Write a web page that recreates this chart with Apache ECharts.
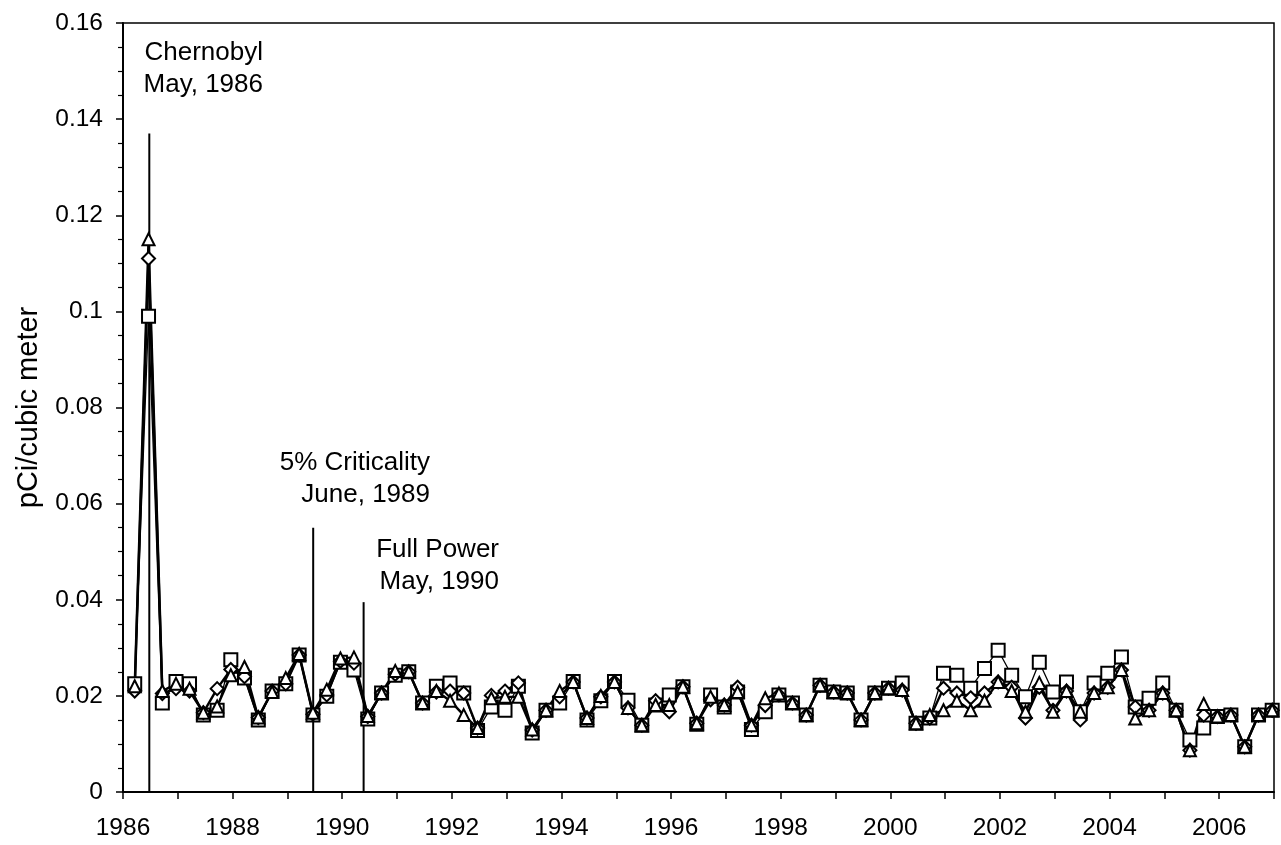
<!DOCTYPE html>
<html>
<head>
<meta charset="utf-8">
<script src="https://cdn.jsdelivr.net/npm/echarts@6/dist/echarts.min.js"></script>
<style>
  html, body { margin: 0; padding: 0; background: #fff; }
  #chart { width: 1281px; height: 845px; }
</style>
</head>
<body>
<div id="chart"></div>
<script>
// Quarterly air samples, first sample in March 1986
const firstYear = 1986;
const sampleMonthDay = [[3, 20], [6, 20], [9, 20], [12, 20]];

// Station readings, pCi per cubic meter, one value per quarter
const stationSquare = [
  0.0225, 0.099, 0.0185, 0.023, 0.0225, 0.016, 0.017, 0.0275, 0.0237, 0.015,
  0.021, 0.0225, 0.0285, 0.016, 0.0199, 0.027, 0.0254, 0.0152, 0.0206, 0.0243,
  0.025, 0.0185, 0.022, 0.0227, 0.0206, 0.0128, 0.0177, 0.017, 0.022, 0.0123,
  0.017, 0.0185, 0.023, 0.015, 0.019, 0.023, 0.0191, 0.0139, 0.0181, 0.0202,
  0.0219, 0.0141, 0.0202, 0.0177, 0.0208, 0.013, 0.0167, 0.0202, 0.0185, 0.016,
  0.0222, 0.0208, 0.0206, 0.015, 0.0206, 0.0216, 0.0227, 0.0143, 0.0154, 0.0247,
  0.0243, 0.0216, 0.0257, 0.0295, 0.0243, 0.0198, 0.027, 0.0208, 0.0229, 0.0167,
  0.0227, 0.0247, 0.0281, 0.0177, 0.0195, 0.0227, 0.017, 0.0108, 0.0133, 0.0157,
  0.016, 0.0094, 0.016, 0.017
];
const stationDiamond = [
  0.021, 0.111, 0.0205, 0.0215, 0.021, 0.0165, 0.0215, 0.0255, 0.024, 0.0155,
  0.021, 0.0225, 0.0285, 0.0162, 0.0202, 0.0272, 0.0268, 0.0157, 0.0206, 0.0245,
  0.025, 0.0185, 0.0208, 0.021, 0.0206, 0.0133, 0.0201, 0.021, 0.0227, 0.0129,
  0.017, 0.0198, 0.0229, 0.0154, 0.0198, 0.0229, 0.0175, 0.0139, 0.019, 0.0167,
  0.0219, 0.0143, 0.0192, 0.0181, 0.0218, 0.0139, 0.018, 0.0202, 0.0185, 0.016,
  0.0222, 0.0208, 0.0206, 0.015, 0.0206, 0.0216, 0.0212, 0.0143, 0.0154, 0.0216,
  0.0206, 0.0196, 0.0206, 0.0229, 0.0218, 0.0154, 0.0218, 0.017, 0.021, 0.015,
  0.0206, 0.0218, 0.0254, 0.0177, 0.017, 0.0206, 0.017, 0.0087, 0.016, 0.0157,
  0.016, 0.0094, 0.016, 0.017
];
const stationTriangle = [
  0.022, 0.115, 0.021, 0.0225, 0.0215, 0.0165, 0.0178, 0.0243, 0.026, 0.0155,
  0.0208, 0.0237, 0.0287, 0.0165, 0.0213, 0.0278, 0.028, 0.0158, 0.0206, 0.0252,
  0.025, 0.0185, 0.021, 0.019, 0.016, 0.0133, 0.0195, 0.0198, 0.0198, 0.013,
  0.017, 0.021, 0.0229, 0.0154, 0.02, 0.0229, 0.0175, 0.0139, 0.0181, 0.0181,
  0.0219, 0.0143, 0.0198, 0.0181, 0.0208, 0.0139, 0.0195, 0.0205, 0.0185, 0.016,
  0.0222, 0.0208, 0.0206, 0.015, 0.0206, 0.0216, 0.0212, 0.0143, 0.016, 0.017,
  0.019, 0.017, 0.019, 0.0229, 0.021, 0.0167, 0.0227, 0.0167, 0.021, 0.0167,
  0.0206, 0.0218, 0.0254, 0.0153, 0.017, 0.0206, 0.017, 0.0087, 0.0183, 0.0157,
  0.016, 0.0094, 0.016, 0.017
];

// Events marked with vertical lines
const eventLabels = ['Chernobyl\nMay, 1986', '5% Criticality\nJune, 1989', 'Full Power\nMay, 1990'];
const eventYears = [1986.48, 1989.47, 1990.39];
const eventHeights = [0.137, 0.055, 0.0395];

// Axis ranges
const yearMin = 1986, yearMax = 2007, yearStep = 1, yearLabelStep = 2;
const valueMin = 0, valueMax = 0.16, valueStep = 0.02;

// Decimal year of each quarterly sample
function sampleTime(i) {
  const year = firstYear + Math.floor(i / 4);
  const [m, d] = sampleMonthDay[i % 4];
  const doy = (Date.UTC(year, m - 1, d) - Date.UTC(year, 0, 1)) / 86400000;
  return year + doy / 365;
}
const pairs = arr => arr.map((v, i) => [sampleTime(i), v]);

const FONT = 'Liberation Sans, Arial, sans-serif';

function stationSeries(values, symbol, size, lineWidth) {
  return {
    type: 'line',
    data: pairs(values),
    symbol: symbol,
    symbolSize: size,
    showAllSymbol: true,
    lineStyle: { color: '#000', width: lineWidth },
    itemStyle: { color: '#fff', borderColor: '#000', borderWidth: 2 },
    emphasis: { disabled: true },
    animation: false
  };
}

const eventSeries = eventYears.map((t, i) => ({
  type: 'line',
  data: [[t, 0], [t, eventHeights[i]]],
  symbol: 'none',
  lineStyle: { color: '#000', width: 2 },
  z: 1,
  animation: false
}));

const labelFont = '26px ' + FONT;
const chart = echarts.init(document.getElementById('chart'));
chart.setOption({
  backgroundColor: '#fff',
  animation: false,
  grid: {
    left: 123, right: 7, top: 23, bottom: 53,
    show: true, borderColor: '#000', borderWidth: 1.5, backgroundColor: 'transparent'
  },
  xAxis: {
    type: 'value',
    min: yearMin, max: yearMax, interval: yearStep,
    axisLine: { show: true, lineStyle: { color: '#000', width: 2 } },
    axisTick: { show: true, length: 7, lineStyle: { color: '#000', width: 1.5 } },
    axisLabel: {
      formatter: v => ((v - yearMin) % yearLabelStep === 0 ? String(v) : ''),
      fontSize: 24.5, color: '#000', fontFamily: FONT, margin: 24
    },
    splitLine: { show: false }
  },
  yAxis: {
    type: 'value',
    min: valueMin, max: valueMax, interval: valueStep,
    name: 'pCi/cubic meter',
    nameLocation: 'middle',
    nameGap: 80,
    nameTextStyle: { fontSize: 29, color: '#000', fontFamily: FONT },
    axisLine: { show: true, lineStyle: { color: '#000', width: 2 } },
    axisTick: { show: true, length: 7, lineStyle: { color: '#000', width: 1.5 } },
    minorTick: { show: true, splitNumber: 4, length: 5, lineStyle: { color: '#000', width: 1.2 } },
    axisLabel: { fontSize: 24.5, color: '#000', fontFamily: FONT, margin: 20 },
    splitLine: { show: false },
    minorSplitLine: { show: false }
  },
  graphic: [
    { type: 'text', x: 263, y: 37, style: { text: eventLabels[0], font: labelFont, fill: '#000', align: 'right', verticalAlign: 'top', lineHeight: 32 } },
    { type: 'text', x: 430, y: 447, style: { text: eventLabels[1], font: labelFont, fill: '#000', align: 'right', verticalAlign: 'top', lineHeight: 32 } },
    { type: 'text', x: 499, y: 534, style: { text: eventLabels[2], font: labelFont, fill: '#000', align: 'right', verticalAlign: 'top', lineHeight: 32 } }
  ],
  series: [
    ...eventSeries,
    stationSeries(stationSquare, 'rect', 13, 1.3),
    stationSeries(stationDiamond, 'diamond', 13, 2.4),
    stationSeries(stationTriangle, 'triangle', 12, 2.4)
  ]
});
</script>
</body>
</html>
